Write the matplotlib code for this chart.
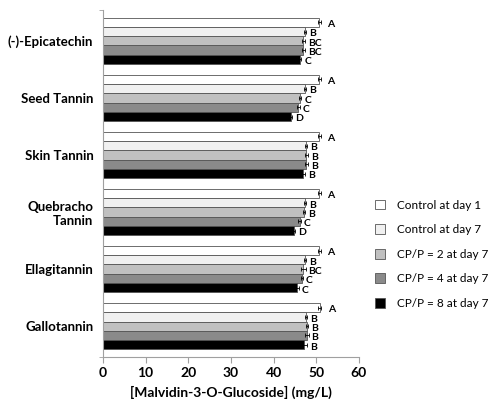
import matplotlib.pyplot as plt
import numpy as np

plt.rcParams['font.family'] = ['Lato', 'DejaVu Sans']

groups = ['(-)-Epicatechin', 'Seed Tannin', 'Skin Tannin', 'Quebracho\nTannin',
          'Ellagitannin', 'Gallotannin']
series = ['Control at day 1', 'Control at day 7', 'CP/P = 2 at day 7',
          'CP/P = 4 at day 7', 'CP/P = 8 at day 7']
colors = ['#ffffff', '#f0f0f0', '#c0c0c0', '#8a8a8a', '#000000']

# values per group, one entry per series
values = [
    [50.7, 47.4, 47.0, 47.0, 46.2],
    [50.7, 47.4, 46.2, 45.8, 44.1],
    [50.7, 47.6, 47.7, 47.7, 47.0],
    [50.7, 47.4, 47.1, 46.1, 44.7],
    [50.7, 47.4, 47.0, 46.6, 45.4],
    [50.8, 47.6, 47.8, 47.8, 47.2],
]
errors = [
    [0.3, 0.3, 0.4, 0.4, 0.3],
    [0.3, 0.3, 0.3, 0.3, 0.3],
    [0.3, 0.3, 0.3, 0.3, 0.3],
    [0.3, 0.3, 0.3, 0.3, 0.3],
    [0.3, 0.3, 0.5, 0.3, 0.5],
    [0.3, 0.3, 0.3, 0.4, 0.6],
]
letters = [
    ['A', 'B', 'BC', 'BC', 'C'],
    ['A', 'B', 'C', 'C', 'D'],
    ['A', 'B', 'B', 'B', 'B'],
    ['A', 'B', 'B', 'C', 'D'],
    ['A', 'B', 'BC', 'C', 'C'],
    ['A', 'B', 'B', 'B', 'B'],
]

fig = plt.figure(figsize=(4.92, 4.01), dpi=100)
ax = fig.add_axes([0.2093, 0.1097, 0.5203, 0.8653])

h = 0.163
vals = np.array(values)
errs = np.array(errors)
for j in range(len(series)):
    y = np.arange(len(groups)) + (j - 2) * h
    ax.barh(y, vals[:, j], height=h, color=colors[j], edgecolor='#555555',
            linewidth=0.6, label=series[j], zorder=2)
    ax.errorbar(vals[:, j], y, xerr=errs[:, j], fmt='none', ecolor='black',
                elinewidth=0.6, capsize=1.5, capthick=0.6, zorder=3)
    for i in range(len(groups)):
        off = 1.6 if j == 0 else 0.7
        ax.text(vals[i, j] + errs[i, j] + off, y[i] + 0.04, letters[i][j],
                fontsize=7.5, fontweight='bold', ha='left', va='center')

ax.set_ylim(5.54, -0.54)
ax.set_xlim(0, 60)
ax.set_xticks(range(0, 61, 10))
ax.set_yticks(range(len(groups)))
ax.set_yticks([-0.54, 5.54], minor=True)
ax.set_yticklabels(groups, fontsize=9.5, fontweight='bold')
for lab in ax.get_xticklabels():
    lab.set_fontweight('bold')
    lab.set_fontsize(10)
ax.tick_params(axis='y', which='major', length=0, pad=7)
ax.tick_params(axis='y', which='minor', length=3, color='#a0a0a0')
ax.tick_params(axis='x', direction='out', length=4, color='#a0a0a0', pad=3)
ax.spines['top'].set_visible(False)
ax.spines['right'].set_visible(False)
ax.spines['left'].set_color('#a0a0a0')
ax.spines['bottom'].set_color('#a0a0a0')
ax.set_xlabel('[Malvidin-3-O-Glucoside] (mg/L)', fontsize=10,
              fontweight='bold', labelpad=5)

fig.legend(loc='center left', bbox_to_anchor=(0.745, 0.366), frameon=False,
           fontsize=8.5, handlelength=0.9, handleheight=0.9, labelspacing=1.15,
           handletextpad=1.0, borderpad=0.2)

fig.savefig('out.png', dpi=100)
